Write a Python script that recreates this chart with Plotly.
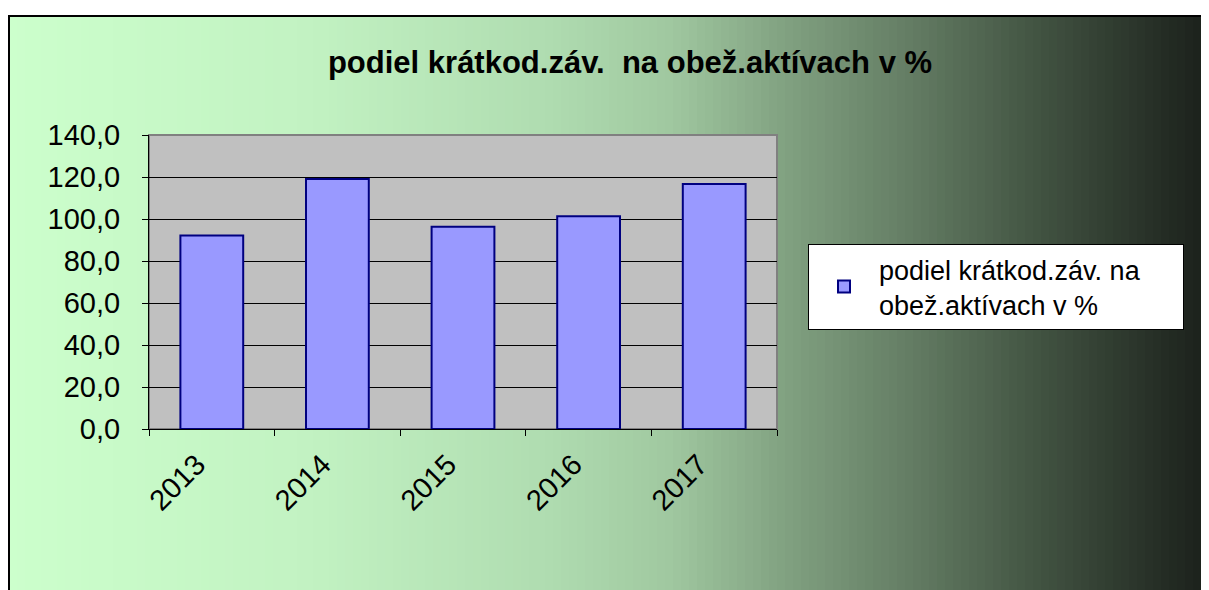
import plotly.graph_objects as go

years = ["2013", "2014", "2015", "2016", "2017"]
values = [92.2, 119.0, 96.3, 101.3, 116.7]
series_name = "podiel krátkod.záv. na&nbsp;&nbsp;&nbsp;&nbsp;&nbsp;<br>obež.aktívach v %"
title_text = "podiel krátkod.záv.  na obež.aktívach v %"

OFF = 8  # page body margin
W, H = 1209, 590 - OFF
PL, PR, PT, PB = 149 - OFF, 777 - OFF, 135 - OFF, 429 - OFF  # plot area in figure pixels


def px_x(p):
    return (p - OFF - PL) / (PR - PL)


def px_y(p):
    return (PB - (p - OFF)) / (PB - PT)


# gradient stops (position 0..1 across chart area, rgb)
stops = [
    (0.0, (204, 255, 204)),
    (0.25, (194, 242, 194)),
    (0.45, (175, 220, 176)),
    (0.55, (160, 200, 160)),
    (0.65, (128, 160, 128)),
    (0.75, (100, 125, 100)),
    (0.85, (68, 86, 68)),
    (1.0, (26, 31, 26)),
]


def grad(t):
    for (t0, c0), (t1, c1) in zip(stops[:-1], stops[1:]):
        if t0 <= t <= t1:
            f = (t - t0) / (t1 - t0)
            return tuple(round(a + (b - a) * f) for a, b in zip(c0, c1))
    return stops[-1][1]


shapes = []
x0, x1 = 9, 1209
n = 150
step = (x1 - x0) / n
for i in range(n):
    a = x0 + i * step
    b = a + step + (1 if i < n - 1 else 40)
    c = grad((i + 0.5) / n)
    shapes.append(dict(type="rect", xref="paper", yref="paper", layer="below",
                       x0=px_x(a), x1=px_x(b), y0=px_y(620), y1=px_y(16),
                       fillcolor="rgb(%d,%d,%d)" % c, line=dict(width=0)))
# outer chart border
shapes.append(dict(type="rect", xref="paper", yref="paper", layer="below",
                   x0=px_x(9), x1=px_x(1260), y0=px_y(640), y1=px_y(16),
                   fillcolor="rgba(0,0,0,0)", line=dict(color="black", width=2)))
# plot area background + border
shapes.append(dict(type="rect", xref="paper", yref="paper", layer="below",
                   x0=0, x1=1, y0=0, y1=1,
                   fillcolor="#c0c0c0", line=dict(color="#808080", width=2)))

fig = go.Figure()
fig.add_trace(go.Bar(
    x=years, y=values, name=series_name,
    marker=dict(color="#9999ff", line=dict(color="#000080", width=2)),
    width=0.5, showlegend=True,
))

fig.update_layout(
    width=W, height=H,
    margin=dict(l=PL, r=W - PR, t=PT, b=H - PB, pad=0),
    paper_bgcolor="white",
    plot_bgcolor="#c0c0c0",
    separators=", ",
    font=dict(family="Liberation Sans, Arial, sans-serif", color="black"),
    title=dict(text="<b>" + title_text + "</b>", x=(630 - OFF) / W, xanchor="center",
               y=1 - (62 - OFF) / H, yanchor="middle", yref="container",
               font=dict(size=31, color="black")),
    shapes=shapes,
    showlegend=True,
    legend=dict(x=px_x(808), y=px_y(244), xanchor="left", yanchor="top",
                bgcolor="white", bordercolor="black", borderwidth=1,
                font=dict(size=27, color="black"), itemwidth=60),
    bargap=0.5,
)
fig.update_xaxes(type="category", showline=True, linecolor="black", linewidth=1,
                 ticks="outside", ticklen=6, tickcolor="black", tickson="boundaries",
                 tickangle=-45, tickfont=dict(size=29), showgrid=False,
                 ticklabelshift=-15, ticklabelstandoff=6)
fig.update_yaxes(range=[0, 140], dtick=20, tickformat=".1f", showline=True,
                 linecolor="black", linewidth=1, ticks="outside", ticklen=6,
                 tickcolor="black", showgrid=True, gridcolor="black", gridwidth=1,
                 tickfont=dict(size=29), zeroline=False, ticklabelstandoff=16)

fig.write_html("out.html")
